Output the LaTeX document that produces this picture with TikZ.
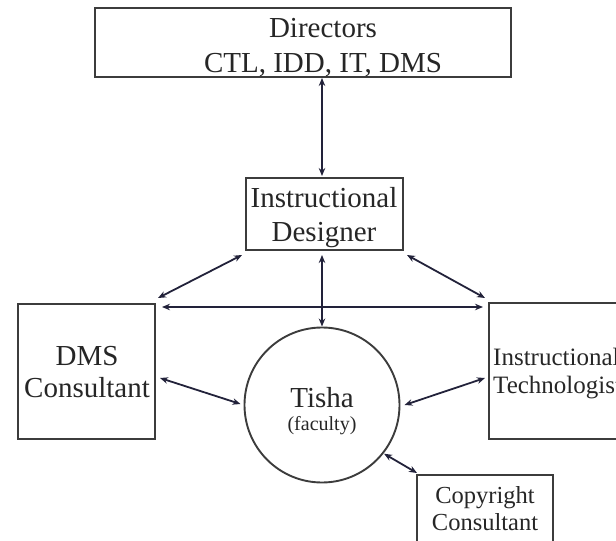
\documentclass[tikz,border=0pt]{standalone}
\usepackage{fontspec}
\setmainfont{Liberation Serif}
\usetikzlibrary{arrows.meta}
\definecolor{boxline}{HTML}{3C3C3C}
\definecolor{arrline}{HTML}{22223A}
\definecolor{txt}{HTML}{262626}
\tikzset{
  boxnode/.style={draw=boxline, line width=2.3pt, rectangle, outer sep=0pt, inner sep=0pt},
  circnode/.style={draw=boxline, line width=1.9pt, circle, outer sep=0pt, inner sep=0pt, minimum size=155pt},
  lbl/.style={anchor=base, text=txt, inner sep=0pt},
  arr/.style={draw=arrline, line width=1.8pt, {Stealth[length=8pt,width=6.5pt]}-{Stealth[length=8pt,width=6.5pt]}}
}
\begin{document}
\begin{tikzpicture}[x=1pt,y=-1pt]
\useasboundingbox (0,0) rectangle (616,541);
\clip (0,0) rectangle (616,541);
% boxes
\node[boxnode, minimum width=416pt, minimum height=69pt] (dir) at (303,42.5) {};
\node[boxnode, minimum width=157pt, minimum height=72pt] (id) at (324.5,214) {};
\node[boxnode, minimum width=137pt, minimum height=135pt] (dms) at (86.5,371.5) {};
\node[boxnode, minimum width=151pt, minimum height=136pt] (it) at (564.5,371) {};
\node[boxnode, minimum width=136pt, minimum height=90pt] (copy) at (485,520) {};
\node[circnode] (tisha) at (322,405) {};
% labels
\node[lbl, font=\fontsize{29}{34}\selectfont] (dirA) at (323,37) {Directors};
\node[lbl, font=\fontsize{29}{34}\selectfont] (dirB) at (323,72) {CTL, IDD, IT, DMS};
\node[lbl, font=\fontsize{29}{34}\selectfont] (idA) at (324,207) {Instructional};
\node[lbl, font=\fontsize{29}{34}\selectfont] (idB) at (324,241) {Designer};
\node[lbl, font=\fontsize{29}{34}\selectfont] (tA) at (322,407) {Tisha};
\node[lbl, font=\fontsize{20}{24}\selectfont] (tB) at (322,430) {(faculty)};
\node[lbl, font=\fontsize{29}{34}\selectfont] (dmsA) at (87,365) {DMS};
\node[lbl, font=\fontsize{29}{34}\selectfont] (dmsB) at (87,397) {Consultant};
\node[lbl, anchor=base west, font=\fontsize{25}{29}\selectfont] (itA) at (493,365) {Instructional};
\node[lbl, anchor=base west, font=\fontsize{25}{29}\selectfont] (itB) at (493,393) {Technologist};
\node[lbl, font=\fontsize{24.5}{28}\selectfont] (cpA) at (485,503) {Copyright};
\node[lbl, font=\fontsize{24.5}{28}\selectfont] (cpB) at (485,530) {Consultant};
% connectors
\draw[arr] ([xshift=19pt,yshift=-1pt]dir.south) -- ([xshift=-2.5pt,yshift=2pt]id.north);
\draw[arr] ([xshift=-2.5pt,yshift=-5pt]id.south) -- ([yshift=1pt]tisha.north);
\draw[arr] ([xshift=-4pt,yshift=-5pt]id.south west) -- ([xshift=3pt,yshift=6pt]dms.north east);
\draw[arr] ([xshift=4pt,yshift=-5pt]id.south east) -- ([xshift=-4pt,yshift=5pt]it.north west);
\draw[arr] ([xshift=7pt,yshift=-3pt]dms.north east) -- ([xshift=-6pt,yshift=-4pt]it.north west);
\draw[arr] ([xshift=5pt,yshift=-6.5pt]dms.east) -- ([xshift=-4pt,yshift=1pt]tisha.west);
\draw[arr] ([xshift=5pt]tisha.east) -- ([xshift=-4pt,yshift=-7pt]it.west);
\draw[arr] ([xshift=1pt,yshift=-1pt]tisha.-38) -- ([yshift=2pt]copy.north west);
\end{tikzpicture}
\end{document}
